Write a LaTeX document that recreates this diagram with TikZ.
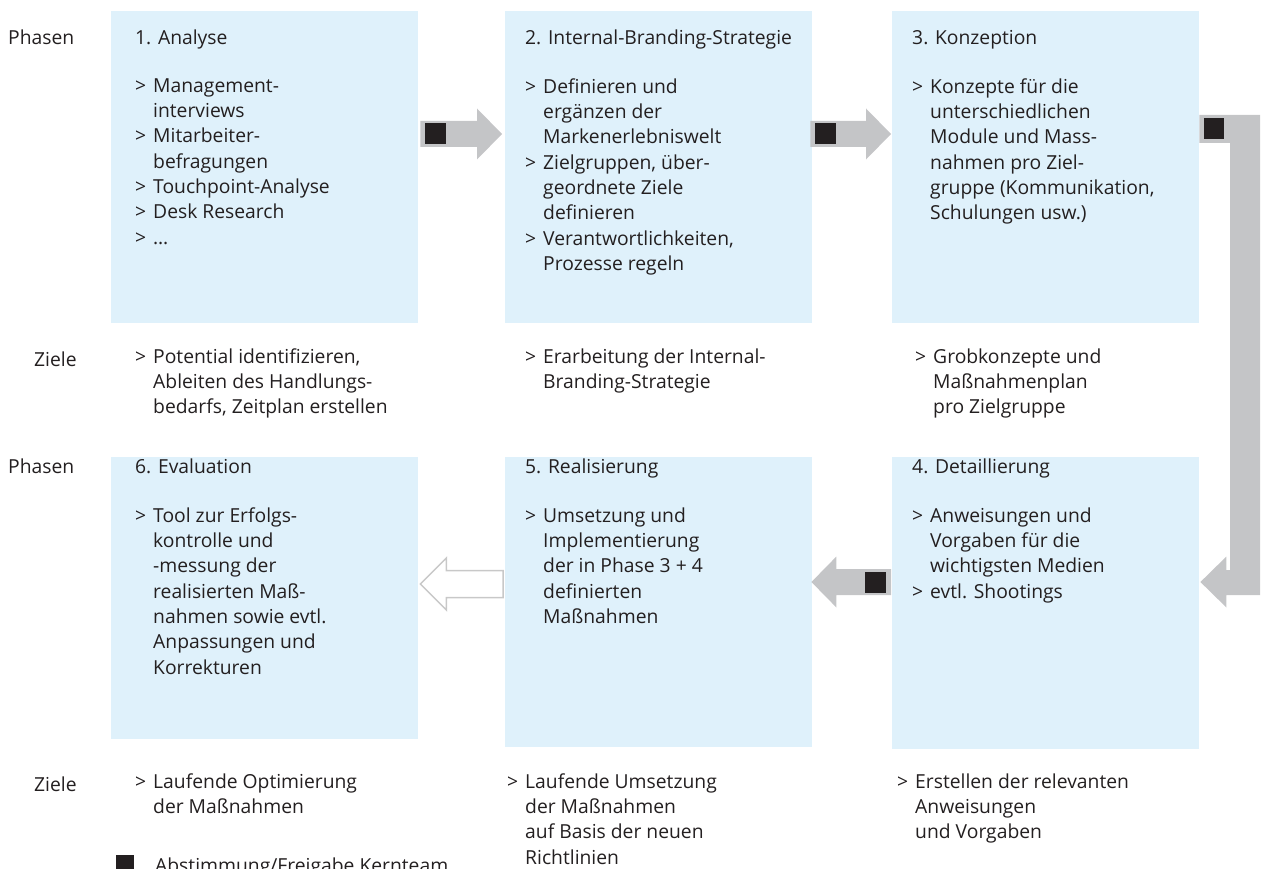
\documentclass[tikz,border=0pt]{standalone}
\usepackage{fontspec}
\setmainfont{Open Sans}
\usetikzlibrary{calc}
\definecolor{feldblau}{RGB}{223,241,251}
\definecolor{pfeilgrau}{RGB}{196,197,199}
\definecolor{randgrau}{RGB}{200,200,200}
\definecolor{dunkel}{RGB}{35,31,32}
\newcommand\fs{\fontsize{19.3}{25.3}\selectfont}
\newcommand\pfl{\makebox[18pt][l]{>}}
\newcommand\ein{\hspace*{18pt}}
% block arrow from #1 to #2 (tip), #3 = 1 right, -1 left
\newcommand\blockpfeil[3]{%
  \fill[pfeilgrau] ($(#1)+(0,-13)$) -- ($(#2)+({-25*(#3)},-13)$) -- ($(#2)+({-25*(#3)},-25.5)$) -- (#2)
    -- ($(#2)+({-25*(#3)},25.5)$) -- ($(#2)+({-25*(#3)},13)$) -- ($(#1)+(0,13)$) -- cycle;
  \fill[dunkel] ($(#1)+({5*(#3)},-10.5)$) rectangle ++({21*(#3)},21);}

\begin{document}
\begin{tikzpicture}[x=1pt,y=-1pt,
    feld/.style={fill=feldblau,minimum width=307pt,inner sep=0pt,anchor=north west},
    txt/.style={anchor=north west,yshift=17.71pt,inner sep=0pt,align=left,text=dunkel,font=\fs,
      execute at begin node=\strut}]
  \useasboundingbox (0,0) rectangle (1263,869);
  \clip (0,0) rectangle (1263,869);
  % Felder
  \node[feld,minimum height=312pt] (b1) at (111,11) {};
  \node[feld,minimum height=312pt] (b2) at (505,11) {};
  \node[feld,minimum height=312pt] (b3) at (892,11) {};
  \node[feld,minimum height=282pt] (b6) at (111,457) {};
  \node[feld,minimum height=290pt] (b5) at (505,457) {};
  \node[feld,minimum height=292pt] (b4) at (892,457) {};
  % Pfeile
  \coordinate (a1) at ($(b1.east|-0,134)+(2,0)$);
  \coordinate (a2) at ($(b2.west|-0,134)+(-3,0)$);
  \blockpfeil{a1}{a2}{1}
  \coordinate (a3) at ($(b2.east|-0,134)+(-2,0)$);
  \coordinate (a4) at ($(b3.west|-0,134)+(-1,0)$);
  \blockpfeil{a3}{a4}{1}
  \coordinate (a5) at (b3.east|-0,129);
  \coordinate (a6) at ($(b4.east|-0,582)+(1,0)$);
  \fill[pfeilgrau] ($(a5)+(0,-14)$) -| (1260,595) -- ($(a6)+(26,13)$) -- ($(a6)+(26,25.5)$) -- (a6)
    -- ($(a6)+(26,-25.5)$) -- ($(a6)+(26,-12)$) -- (1230,570) |- ($(a5)+(0,14)$) -- cycle;
  \fill[dunkel] ($(a5)+(5,-11)$) rectangle ++(20,21);
  \coordinate (a7) at ($(b4.west|-0,582)+(-1,0)$);
  \coordinate (a8) at ($(b5.east|-0,582)+(-1,0)$);
  \blockpfeil{a7}{a8}{-1}
  \coordinate (a9) at ($(b5.west|-0,584)+(-2,0)$);
  \coordinate (a10) at ($(b6.east|-0,584)+(2,0)$);
  \draw[randgrau,line width=1.5pt] ($(a9)+(0,-13.5)$) -- ($(a10)+(26,-13.5)$) -- ($(a10)+(26,-26)$) -- (a10)
    -- ($(a10)+(26,26)$) -- ($(a10)+(26,13.5)$) -- ($(a9)+(0,13.5)$) -- cycle;
  % Phasen oben
  \node[txt] (ph1) at (8,44) {Phasen};
  \node[txt] (t1) at (135,44) {1. Analyse};
  \node[txt] (l1) at (135,96) {\pfl Management-\\\ein interviews\\\pfl Mitarbeiter-\\\ein befragungen\\
    \pfl Touchpoint-Analyse\\\pfl Desk Research\\\pfl …};
  \node[txt] (t2) at (525,44) {2. Internal-Branding-Strategie};
  \node[txt] (l2) at (525,96) {\pfl Definieren und\\\ein ergänzen der\\\ein Markenerlebniswelt\\
    \pfl Zielgruppen, über-\\\ein geordnete Ziele\\\ein definieren\\
    \pfl Verantwortlichkeiten,\\\ein Prozesse regeln};
  \node[txt] (t3) at (912,44) {3. Konzeption};
  \node[txt] (l3) at (912,96) {\pfl Konzepte für die\\\ein unterschiedlichen\\\ein Module und Mass-\\
    \ein nahmen pro Ziel-\\\ein gruppe (Kommunikation,\\\ein Schulungen usw.)};
  % Ziele oben
  \node[txt] (zi1) at (34,366) {Ziele};
  \node[txt] (z1) at (135,366) {\pfl Potential identifizieren,\\\ein Ableiten des Handlungs-\\\ein bedarfs, Zeitplan erstellen};
  \node[txt] (z2) at (525,366) {\pfl Erarbeitung der Internal-\\\ein Branding-Strategie};
  \node[txt] (z3) at (915,366) {\pfl Grobkonzepte und\\\ein Maßnahmenplan\\\ein pro Zielgruppe};
  % Phasen unten
  \node[txt] (ph2) at (8,473) {Phasen};
  \node[txt] (t6) at (135,473) {6. Evaluation};
  \node[txt] (l6) at (135,525) {\pfl Tool zur Erfolgs-\\\ein kontrolle und\\\ein -messung der\\
    \ein realisierten Maß-\\\ein nahmen sowie evtl.\\\ein Anpassungen und\\\ein Korrekturen};
  \node[txt] (t5) at (525,473) {5. Realisierung};
  \node[txt] (l5) at (525,525) {\pfl Umsetzung und\\\ein Implementierung\\\ein der in Phase 3 + 4\\
    \ein definierten\\\ein Maßnahmen};
  \node[txt] (t4) at (912,473) {4. Detaillierung};
  \node[txt] (l4) at (912,525) {\pfl Anweisungen und\\\ein Vorgaben für die\\\ein wichtigsten Medien\\
    \pfl evtl. Shootings};
  % Ziele unten
  \node[txt] (zi2) at (34,791) {Ziele};
  \node[txt] (z6) at (135,791) {\pfl Laufende Optimierung\\\ein der Maßnahmen};
  \node[txt] (z5) at (507,791) {\pfl Laufende Umsetzung\\\ein der Maßnahmen\\\ein auf Basis der neuen\\\ein Richtlinien};
  \node[txt] (z4) at (897,791) {\pfl Erstellen der relevanten\\\ein Anweisungen\\\ein und Vorgaben};
  % Legende
  \fill[dunkel] (116,855) rectangle ++(18,18);
  \node[txt] (leg) at (155,872) {Abstimmung/Freigabe Kernteam};
\end{tikzpicture}
\end{document}
